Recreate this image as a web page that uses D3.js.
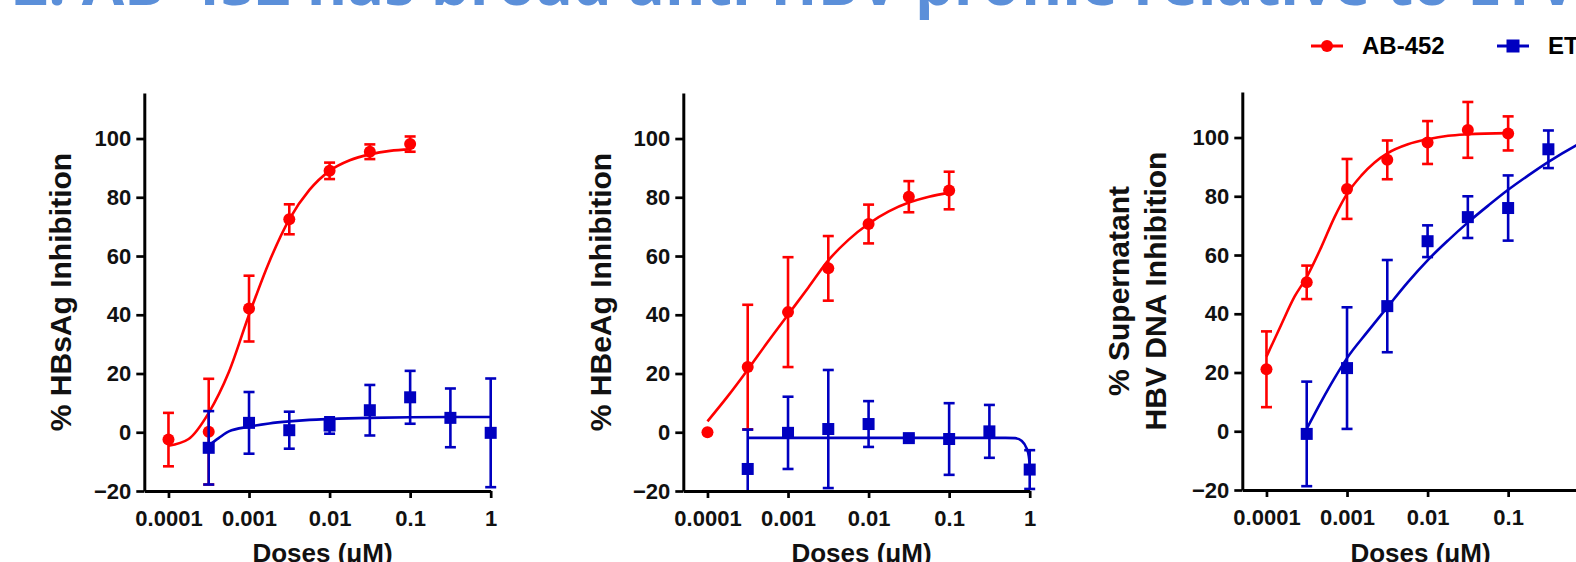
<!DOCTYPE html>
<meta charset="utf-8">
<style>
  body { margin: 0; background: #fff; }
  text { font-family: "Liberation Sans", Arial, sans-serif; font-weight: bold; }
</style>
<script src="https://d3js.org/d3.v7.min.js"></script>
<body>
<script>
    // shared axes
    var doseTicks = [1e-4, 1e-3, 1e-2, 1e-1, 1];
    var doseTickLabels = ["0.0001", "0.001", "0.01", "0.1", "1"];
    var yTicks = [-20, 0, 20, 40, 60, 80, 100];

    var abDoses = [1e-4, 3.16e-4, 1e-3, 3.16e-3, 1e-2, 3.16e-2, 0.1];
    var etvDoses = [3.16e-4, 1e-3, 3.16e-3, 1e-2, 3.16e-2, 0.1, 0.316, 1];

    // panel 1 : HBsAg
    var hbsagAB = [-2.5, 0.2, 42.1, 72.5, 89.0, 95.5, 98.1];
    var hbsagABErr = [9.1, 18.0, 11.2, 5.1, 2.8, 2.5, 2.6];
    var hbsagETV = [-5.3, 3.2, 0.7, 2.3, 7.5, 11.9, 4.9, -0.2];
    var hbsagETVErr = [12.5, 10.5, 6.3, 2.8, 8.6, 9.0, 10.0, 18.5];
    var hbsagABFitDose = [1e-4, 1.78e-4, 3.16e-4, 5.62e-4, 1e-3, 1.78e-3, 3.16e-3, 5.62e-3, 1e-2, 1.78e-2, 3.16e-2, 5.62e-2, 0.1];
    var hbsagABFit = [-4.6, -2.3, 6.6, 20.5, 40.0, 58.0, 72.5, 82.5, 89.0, 92.6, 94.6, 95.8, 96.3];
    var hbsagETVFitDose = [3.16e-4, 4.2e-4, 5.62e-4, 1e-3, 1.78e-3, 3.16e-3, 5.62e-3, 1e-2, 3.16e-2, 0.1, 0.316, 1];
    var hbsagETVFit = [-4.5, -2.0, 0.3, 1.9, 3.0, 3.7, 4.2, 4.5, 4.9, 5.1, 5.2, 5.2];

    // panel 2 : HBeAg
    var hbeagAB = [0.0, 22.2, 40.9, 55.8, 70.9, 80.2, 82.3];
    var hbeagABErr = [0, 21.2, 18.7, 11.0, 6.6, 5.3, 6.4];
    var hbeagETV = [-12.5, -0.2, 1.1, 2.8, -2.0, -2.3, 0.3, -12.7];
    var hbeagETVErr = [13.4, 12.3, 20.1, 7.8, 1.0, 12.2, 9.0, 6.6];
    var hbeagABFitDose = [1e-4, 1.78e-4, 3.16e-4, 5.62e-4, 1e-3, 1.78e-3, 3.16e-3, 5.62e-3, 1e-2, 1.78e-2, 3.16e-2, 5.62e-2, 0.1];
    var hbeagABFit = [3.7, 12.2, 21.3, 30.8, 40.0, 49.2, 58.5, 65.5, 71.0, 75.2, 78.2, 80.2, 81.5];
    var hbeagETVFitDose = [3.16e-4, 1e-3, 1e-2, 0.1, 0.5, 0.66, 0.8, 0.91, 0.975, 1];
    var hbeagETVFit = [-1.9, -1.9, -1.9, -1.9, -1.9, -2.0, -3.0, -5.3, -8.2, -11];

    // panel 3 : supernatant HBV DNA
    var hbvAB = [21.1, 50.7, 82.5, 92.4, 98.3, 102.6, 101.4];
    var hbvABErr = [12.9, 5.7, 10.2, 6.6, 7.3, 9.5, 5.8];
    var hbvETV = [-0.9, 21.5, 42.6, 64.7, 72.9, 76.0, 96.0];
    var hbvETVErr = [17.8, 20.7, 15.7, 5.4, 7.1, 11.1, 6.4];
    var hbvABFitDose = [1e-4, 1.52e-4, 2.23e-4, 3.16e-4, 4.79e-4, 7.0e-4, 1e-3, 1.5e-3, 2.2e-3, 3.16e-3, 5.7e-3, 1e-2, 1.8e-2, 3.16e-2, 0.1];
    var hbvABFit = [25.4, 36.2, 45.8, 52.5, 62.7, 72.9, 80.8, 87.0, 91.5, 94.6, 97.7, 99.4, 100.6, 101.1, 101.5];
    var hbvETVFitDose = [3.2e-4, 4.8e-4, 7.0e-4, 1e-3, 1.8e-3, 3.2e-3, 5.7e-3, 1e-2, 1.8e-2, 3.2e-2, 5.7e-2, 0.1, 0.18, 0.32, 0.74, 1];
    var hbvETVFit = [1.1, 10.2, 18.1, 24.9, 33.9, 42.4, 50.8, 58.2, 65.0, 71.2, 76.9, 82.2, 87.2, 91.8, 97.7, 99.6];

    var red = "#ff0000", blue = "#0000c0";

    var svg = d3.select("body").append("svg")
        .attr("width", 1576)
        .attr("height", 562);

    svg.append("text")
        .attr("x", 13).attr("y", 5)
        .style("font-family", "'Open Sans', sans-serif")
        .style("font-size", "61.5px")
        .attr("fill", "#5b8fd9")
        .text("2. AB-452 has broad anti-HBV profile relative to ETV");

    // legend
    var leg = svg.append("g");
    leg.append("line").attr("x1", 1311).attr("x2", 1343).attr("y1", 46).attr("y2", 46)
        .attr("stroke", red).attr("stroke-width", 3);
    leg.append("circle").attr("cx", 1327).attr("cy", 46).attr("r", 6).attr("fill", red);
    leg.append("text").attr("x", 1362).attr("y", 54).style("font-size", "24px").text("AB-452");
    leg.append("line").attr("x1", 1497).attr("x2", 1529).attr("y1", 46).attr("y2", 46)
        .attr("stroke", blue).attr("stroke-width", 3);
    leg.append("rect").attr("x", 1513 - 6.5).attr("y", 46 - 6.5).attr("width", 13).attr("height", 13).attr("fill", blue);
    leg.append("text").attr("x", 1548).attr("y", 54).style("font-size", "24px").text("ETV");

    var panels = [
      { left: 144.3, bottom: 491, top: 93, ylab: [["% HBsAg Inhibition", 60]],
        ab: [hbsagAB, hbsagABErr, hbsagABFitDose, hbsagABFit],
        etv: [hbsagETV, hbsagETVErr, hbsagETVFitDose, hbsagETVFit] },
      { left: 683.3, bottom: 491, top: 93, ylab: [["% HBeAg Inhibition", 600]],
        ab: [hbeagAB, hbeagABErr, hbeagABFitDose, hbeagABFit],
        etv: [hbeagETV, hbeagETVErr, hbeagETVFitDose, hbeagETVFit] },
      { left: 1242.3, bottom: 490, top: 92, ylab: [["% Supernatant", 1118], ["HBV DNA Inhibition", 1155]],
        ab: [hbvAB, hbvABErr, hbvABFitDose, hbvABFit],
        etv: [hbvETV, hbvETVErr, hbvETVFitDose, hbvETVFit] }
    ];

    panels.forEach(function(p) {
      var x = d3.scaleLog()
        .domain([Math.pow(10, -4.3), 1])
        .range([p.left, p.left + 346.4]);
      var y = d3.scaleLinear()
        .domain([-20, 115.5])
        .range([p.bottom, p.top]);

      var g = svg.append("g");

      var line = d3.line()
        .x(function(d) { return x(d[0]); })
        .y(function(d) { return y(d[1]); })
        .curve(d3.curveMonotoneX);

      function series(s, doses, color, shape) {
        var mean = s[0], err = s[1];
        var fit = s[2].map(function(d, i) { return [d, s[3][i]]; });
        g.append("path")
          .datum(fit)
          .attr("fill", "none")
          .attr("stroke", color)
          .attr("stroke-width", 2.6)
          .attr("d", line);

        doses.forEach(function(d, i) {
          var cx = x(d);
          if (err[i] > 0) {
            var lo = Math.max(mean[i] - err[i], -20), hi = mean[i] + err[i];
            g.append("line").attr("x1", cx).attr("x2", cx)
              .attr("y1", y(lo)).attr("y2", y(hi))
              .attr("stroke", color).attr("stroke-width", 2.6);
            g.append("line").attr("x1", cx - 5.5).attr("x2", cx + 5.5)
              .attr("y1", y(hi)).attr("y2", y(hi))
              .attr("stroke", color).attr("stroke-width", 2.6);
            if (mean[i] - err[i] > -20) {
              g.append("line").attr("x1", cx - 5.5).attr("x2", cx + 5.5)
                .attr("y1", y(lo)).attr("y2", y(lo))
                .attr("stroke", color).attr("stroke-width", 2.6);
            }
          }
          if (shape == "circle") {
            g.append("circle").attr("cx", cx).attr("cy", y(mean[i])).attr("r", 6).attr("fill", color);
          } else {
            g.append("rect").attr("x", cx - 6).attr("y", y(mean[i]) - 6)
              .attr("width", 12).attr("height", 12).attr("fill", color);
          }
        });
      }

      series(p.ab, abDoses, red, "circle");
      series(p.etv, etvDoses.slice(0, p.etv[0].length), blue, "square");

      var yAxis = g.append("g")
        .attr("transform", "translate(" + p.left + ",0)")
        .call(d3.axisLeft(y).tickValues(yTicks).tickSize(8).tickSizeOuter(0).tickPadding(5));
      var xAxis = g.append("g")
        .attr("transform", "translate(0," + p.bottom + ")")
        .call(d3.axisBottom(x).tickValues(doseTicks).tickSize(7).tickSizeOuter(0).tickPadding(12)
          .tickFormat(function(d, i) { return doseTickLabels[i]; }));

      [yAxis, xAxis].forEach(function(a) {
        a.select(".domain").attr("stroke", "#000").attr("stroke-width", 3);
        a.selectAll(".tick line").attr("stroke", "#000").attr("stroke-width", 2.7);
        a.selectAll(".tick text")
          .attr("fill", "#111")
          .style("font-family", "'Liberation Sans', Arial, sans-serif")
          .style("font-weight", "bold")
          .style("font-size", "22px");
      });

      p.ylab.forEach(function(l) {
        g.append("text")
          .attr("transform", "translate(" + l[1] + "," + ((p.top + p.bottom) / 2) + ") rotate(-90)")
          .attr("text-anchor", "middle")
          .attr("dy", "0.35em")
          .style("font-size", "30px")
          .attr("fill", "#111")
          .text(l[0]);
      });

      g.append("text")
        .attr("x", p.left + 173.2 + 5)
        .attr("y", 562)
        .attr("text-anchor", "middle")
        .style("font-size", "26px")
        .attr("fill", "#111")
        .text("Doses (\u03bcM)");
    });
</script>
</body>
